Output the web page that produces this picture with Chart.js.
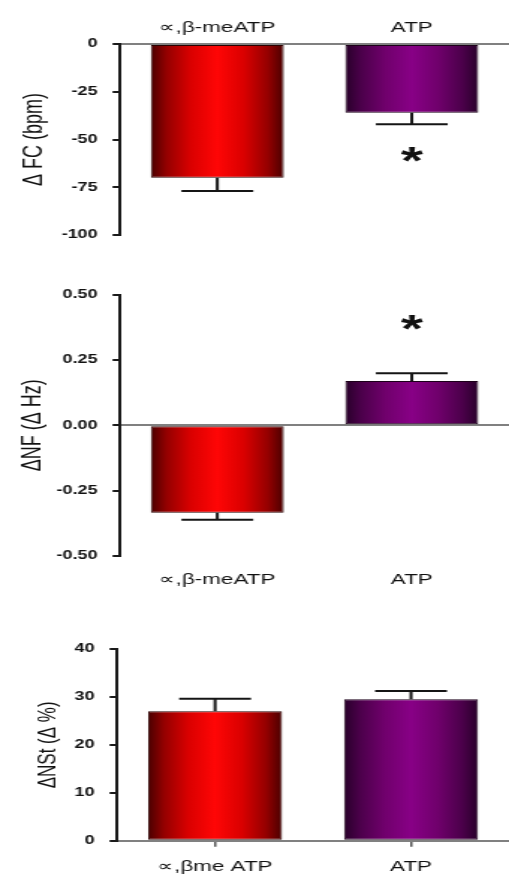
<!DOCTYPE html>
<html>
<head>
<meta charset="utf-8">
<script src="https://cdn.jsdelivr.net/npm/chart.js@4/dist/chart.umd.min.js"></script>
<style>
  html, body { margin: 0; padding: 0; background: #ffffff; }
  #page { position: relative; width: 509px; height: 880px; overflow: hidden; background: #ffffff; }
  .panel { position: absolute; left: 0; width: 340px; transform-origin: 0 0; }
  .panel canvas { display: block; }
</style>
</head>
<body>
<div id="page">
  <div class="panel" style="top:0px;height:260px"><canvas id="fc" width="340" height="260"></canvas></div>
  <div class="panel" style="top:270px;height:330px"><canvas id="nf" width="340" height="330"></canvas></div>
  <div class="panel" style="top:620px;height:260px"><canvas id="nst" width="340" height="260"></canvas></div>
</div>
<script>
// Treatments
const categories = ['∝,β-meATP', 'ATP'];
const categoriesBottom = ['∝,βme ATP', 'ATP'];

// Heart rate change (bpm): mean and SEM
const fcMean = [-70, -36];
const fcErr = [7, 6];
const fcTicks = [0, -25, -50, -75, -100];

// NF change (Hz): mean and SEM
const nfMean = [-0.335, 0.17];
const nfErr = [0.027, 0.03];
const nfTicks = [0.5, 0.25, 0, -0.25, -0.5];

// NSt change (%): mean and SEM
const nstMean = [27, 29.5];
const nstErr = [2.6, 1.75];
const nstTicks = [40, 30, 20, 10, 0];

// The figure is laid out on a narrower canvas and widened horizontally.
const STRETCH = 509 / 340;
document.querySelectorAll('.panel').forEach(p => { p.style.transform = 'scaleX(' + STRETCH + ')'; });

const BAR_PCT = 0.684;
const FONT = 'Liberation Sans, Arial, sans-serif';

const redStops = [[0, '#4a0000'], [0.12, '#950000'], [0.3, '#da0000'], [0.5, '#ff0606'], [0.7, '#da0000'], [0.88, '#950000'], [1, '#4a0000']];
const purpleStops = [[0, '#28002a'], [0.12, '#4c004b'], [0.3, '#70006c'], [0.5, '#880086'], [0.7, '#70006c'], [0.88, '#4c004b'], [1, '#28002a']];

function barFill(c) {
  const stops = c.dataIndex === 0 ? redStops : purpleStops;
  const chart = c.chart;
  const xs = chart.scales && chart.scales.x;
  if (!xs || !xs.width || !xs.ticks || !xs.ticks.length) return stops[3][1];
  const cx = xs.getPixelForValue(c.dataIndex);
  const half = xs.width / xs.ticks.length * BAR_PCT / 2;
  const g = chart.ctx.createLinearGradient(cx - half, 0, cx + half, 0);
  stops.forEach(([o, col]) => g.addColorStop(o, col));
  return g;
}

// Error bars (one-sided, away from zero) and significance marks
const errorBars = {
  id: 'errorBars',
  afterDatasetsDraw(chart, args, opts) {
    const ctx = chart.ctx;
    const ys = chart.scales.y;
    const ds = chart.data.datasets[0];
    const meta = chart.getDatasetMeta(0);
    ctx.save();
    ctx.strokeStyle = '#151515';
    ctx.lineWidth = 2;
    meta.data.forEach((bar, i) => {
      const v = ds.data[i];
      const end = v + Math.sign(v) * ds.errors[i];
      const y0 = ys.getPixelForValue(v);
      const y1 = ys.getPixelForValue(end);
      ctx.beginPath();
      ctx.moveTo(bar.x, y0);
      ctx.lineTo(bar.x, y1);
      ctx.moveTo(bar.x - opts.capWidth / 2, y1);
      ctx.lineTo(bar.x + opts.capWidth / 2, y1);
      ctx.stroke();
      if (opts.starIndex === i) {
        ctx.font = 'bold 38px ' + FONT;
        ctx.fillStyle = '#111111';
        ctx.textAlign = 'center';
        ctx.textBaseline = 'alphabetic';
        const m = ctx.measureText('*');
        const h = m.actualBoundingBoxAscent + m.actualBoundingBoxDescent;
        const cy = y1 + opts.starOffset;
        ctx.fillText('*', bar.x, cy + h / 2 - m.actualBoundingBoxDescent);
      }
    });
    ctx.restore();
  }
};

function makeChart(id, cfg) {
  return new Chart(document.getElementById(id), {
    type: 'bar',
    data: {
      labels: cfg.labels,
      datasets: [{
        data: cfg.values,
        errors: cfg.errors,
        backgroundColor: barFill,
        borderColor: c => c.dataIndex === 0 ? '#2a0000' : '#1c0019',
        borderWidth: 1,
        borderSkipped: false,
        barPercentage: BAR_PCT,
        categoryPercentage: 1
      }]
    },
    options: {
      responsive: false,
      devicePixelRatio: 1,
      animation: false,
      layout: { padding: cfg.padding },
      plugins: {
        legend: { display: false },
        tooltip: { enabled: false },
        errorBars: { capWidth: 48, starIndex: cfg.starIndex, starOffset: cfg.starOffset }
      },
      scales: {
        x: {
          position: cfg.xPosition,
          offset: true,
          afterFit: s => { s.height = cfg.xHeight; },
          border: { display: false },
          grid: {
            display: cfg.xTicks,
            drawOnChartArea: false,
            drawTicks: cfg.xTicks,
            offset: false,
            tickLength: 6,
            color: '#555555',
            lineWidth: 1.5
          },
          ticks: {
            color: '#111111',
            font: { family: FONT, size: 15 },
            padding: cfg.xPad,
            maxRotation: 0,
            autoSkip: false
          }
        },
        y: {
          min: cfg.min,
          max: cfg.max,
          afterBuildTicks: s => { s.ticks = cfg.ticks.map(v => ({ value: v })); },
          afterFit: s => { s.width = cfg.yWidth; },
          border: { display: true, color: '#1a1a1a', width: 2 },
          grid: {
            drawOnChartArea: true,
            drawTicks: true,
            color: c => (c.tick && c.tick.value === 0) ? '#808080' : 'rgba(0,0,0,0)',
            lineWidth: 2,
            tickColor: '#1a1a1a',
            tickWidth: 2,
            tickLength: 5
          },
          ticks: {
            color: '#111111',
            font: { family: FONT, size: 12, weight: 'bold' },
            padding: 10,
            callback: cfg.fmt
          },
          title: {
            display: true,
            text: cfg.title,
            color: '#111111',
            font: { family: FONT, size: cfg.titleSize },
            padding: { top: cfg.titlePad, bottom: 0 }
          }
        }
      }
    },
    plugins: [errorBars]
  });
}

makeChart('fc', {
  labels: categories, values: fcMean, errors: fcErr, ticks: fcTicks,
  min: -100, max: 0, fmt: v => String(v),
  title: 'Δ FC (bpm)', titleSize: 18, titlePad: 12.6,
  xPosition: 'top', xHeight: 44, xPad: 7.5, xTicks: false,
  yWidth: 80.2, padding: { top: 0, bottom: 25, left: 0, right: 0 },
  starIndex: 1, starOffset: 30
});

makeChart('nf', {
  labels: categories, values: nfMean, errors: nfErr, ticks: nfTicks,
  min: -0.5, max: 0.5, fmt: v => Number(v).toFixed(2),
  title: 'ΔNF (Δ Hz)', titleSize: 18, titlePad: 11.2,
  xPosition: 'bottom', xHeight: 44.3, xPad: 15.3, xTicks: false,
  yWidth: 80.2, padding: { top: 25, bottom: 0, left: 0, right: 0 },
  starIndex: 1, starOffset: -51
});

makeChart('nst', {
  labels: categoriesBottom, values: nstMean, errors: nstErr, ticks: nstTicks,
  min: 0, max: 40, fmt: v => String(v),
  title: 'ΔNSt (Δ %)', titleSize: 17, titlePad: 22.6,
  xPosition: 'bottom', xHeight: 39.3, xPad: 11.3, xTicks: true,
  yWidth: 78.2, padding: { top: 29, bottom: 0, left: 0, right: 0 },
  starIndex: -1, starOffset: 0
});
</script>
</body>
</html>
